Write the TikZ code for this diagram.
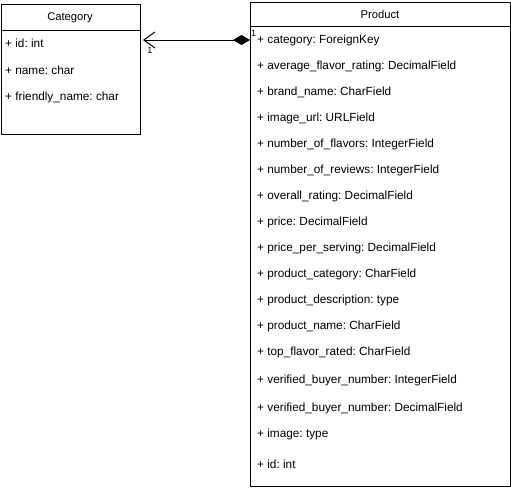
\documentclass[tikz,border=0pt]{standalone}
\usepackage{fontspec}
\setmainfont{Liberation Sans}
\frenchspacing
\usetikzlibrary{arrows.meta}
\begin{document}
\begin{tikzpicture}[x=1pt,y=-1pt,
  box/.style={draw,line width=1pt,inner sep=0pt,anchor=north west},
  attr/.style={anchor=west,inner sep=0pt,font=\fontsize{11.8}{13}\selectfont},
  head/.style={inner sep=0pt,font=\fontsize{11.2}{13}\selectfont},
  lbl/.style={inner sep=0pt,font=\fontsize{9}{10}\selectfont}]
\useasboundingbox (0,0) rectangle (511,490);
% Category
\node[box,minimum width=139pt,minimum height=130pt] (cat) at (0.5,4) {};
\draw[line width=1pt] (cat.west |- 0,30) coordinate (cl) -- (cat.east |- cl);
\node[head] (cath) at (70,17.5) {Category};
\node[attr] (c1) at (5,43) {+ id: int};
\node[attr] (c2) at (5,70) {+ name: char};
\node[attr] (c3) at (5,97) {+ friendly\_name: char};
% Product
\node[box,minimum width=260pt,minimum height=484pt] (prod) at (250,1.5) {};
\draw[line width=1pt] (prod.west |- 0,26.5) coordinate (pl) -- (prod.east |- pl);
\node[head] (prodh) at (380,14.5) {Product};
\node[attr] (p1) at (257,40) {+ category: ForeignKey};
\node[attr] (p2) at (257,66) {+ average\_flavor\_rating: DecimalField};
\node[attr] (p3) at (257,92) {+ brand\_name: CharField};
\node[attr] (p4) at (257,118) {+ image\_url: URLField};
\node[attr] (p5) at (257,144) {+ number\_of\_flavors: IntegerField};
\node[attr] (p6) at (257,170) {+ number\_of\_reviews: IntegerField};
\node[attr] (p7) at (257,196) {+ overall\_rating: DecimalField};
\node[attr] (p8) at (257,222) {+ price: DecimalField};
\node[attr] (p9) at (257,248) {+ price\_per\_serving: DecimalField};
\node[attr] (p10) at (257,274) {+ product\_category: CharField};
\node[attr] (p11) at (257,300) {+ product\_description: type};
\node[attr] (p12) at (257,326) {+ product\_name: CharField};
\node[attr] (p13) at (257,352) {+ top\_flavor\_rated: CharField};
\node[attr] (p14) at (257,380) {+ verified\_buyer\_number: IntegerField};
\node[attr] (p15) at (257,408) {+ verified\_buyer\_number: DecimalField};
\node[attr] (p16) at (257,434) {+ image: type};
\node[attr] (p17) at (257,464) {+ id: int};
% connector
\draw[line width=1pt,{Diamond[length=17pt,width=10pt]}-{Straight Barb[length=11pt,width=16pt]},shorten >=2.5pt]
  (prod.west |- p1) -- (cat.east |- p1);
\node[lbl] (m1) at (150,50) {1};
\node[lbl] (m2) at (253.5,33) {1};
\end{tikzpicture}
\end{document}
